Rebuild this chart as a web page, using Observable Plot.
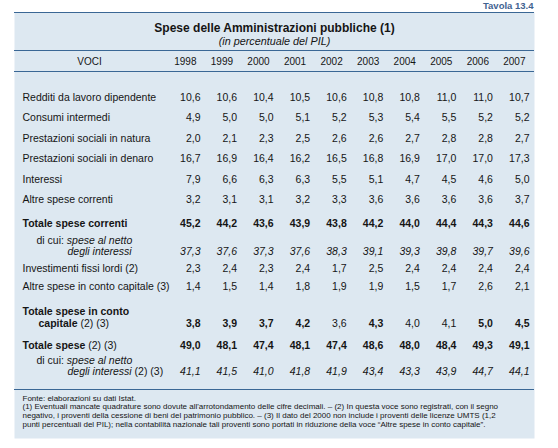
<!DOCTYPE html>
<html><head><meta charset="utf-8">
<script src="https://cdn.jsdelivr.net/npm/d3@7"></script>
<script src="https://cdn.jsdelivr.net/npm/@observablehq/plot@0.6"></script>
<style>
body{margin:0;background:#fff}
svg{display:block}
g[aria-label="values"] text{letter-spacing:0.6px}
</style>
</head><body><div id="chart"></div>
<script>
// ---- data ----
const years = [1998, 1999, 2000, 2001, 2002, 2003, 2004, 2005, 2006, 2007];
const redditi      = [10.6, 10.6, 10.4, 10.5, 10.6, 10.8, 10.8, 11.0, 11.0, 10.7];
const consumi      = [4.9, 5.0, 5.0, 5.1, 5.2, 5.3, 5.4, 5.5, 5.2, 5.2];
const natura       = [2.0, 2.1, 2.3, 2.5, 2.6, 2.6, 2.7, 2.8, 2.8, 2.7];
const denaro       = [16.7, 16.9, 16.4, 16.2, 16.5, 16.8, 16.9, 17.0, 17.0, 17.3];
const interessi    = [7.9, 6.6, 6.3, 6.3, 5.5, 5.1, 4.7, 4.5, 4.6, 5.0];
const altreCorr    = [3.2, 3.1, 3.1, 3.2, 3.3, 3.6, 3.6, 3.6, 3.6, 3.7];
const totCorr      = [45.2, 44.2, 43.6, 43.9, 43.8, 44.2, 44.0, 44.4, 44.3, 44.6];
const corrNetto    = [37.3, 37.6, 37.3, 37.6, 38.3, 39.1, 39.3, 39.8, 39.7, 39.6];
const investimenti = [2.3, 2.4, 2.3, 2.4, 1.7, 2.5, 2.4, 2.4, 2.4, 2.4];
const altreCap     = [1.4, 1.5, 1.4, 1.8, 1.9, 1.9, 1.5, 1.7, 2.6, 2.1];
const totCap       = [3.8, 3.9, 3.7, 4.2, 3.6, 4.3, 4.0, 4.1, 5.0, 4.5];
const totSpese     = [49.0, 48.1, 47.4, 48.1, 47.4, 48.6, 48.0, 48.4, 49.3, 49.1];
const speseNetto   = [41.1, 41.5, 41.0, 41.8, 41.9, 43.4, 43.3, 43.9, 44.7, 44.1];

const rowLabels = [
  "Redditi da lavoro dipendente", "Consumi intermedi", "Prestazioni sociali in natura",
  "Prestazioni sociali in denaro", "Interessi", "Altre spese correnti", "Totale spese correnti",
  "di cui: spese al netto degli interessi", "Investimenti fissi lordi (2)",
  "Altre spese in conto capitale (3)", "Totale spese in conto capitale (2) (3)",
  "Totale spese (2) (3)", "di cui: spese al netto degli interessi (2) (3)"
];
const tableNo = "Tavola 13.4";
const title = "Spese delle Amministrazioni pubbliche (1)";
const subtitle = "(in percentuale del PIL)";
const headLabel = "VOCI";
const notes = [
  "Fonte: elaborazioni su dati Istat.",
  "(1) Eventuali mancate quadrature sono dovute all'arrotondamento delle cifre decimali. – (2) In questa voce sono registrati, con il segno",
  "negativo, i proventi della cessione di beni del patrimonio pubblico. – (3) Il dato del 2000 non include i proventi delle licenze UMTS (1,2",
  "punti percentuali del PIL); nella contabilità nazionale tali proventi sono portati in riduzione della voce “Altre spese in conto capitale”."
];

// ---- layout ----
const FONT = "'Liberation Sans', Arial, Helvetica, sans-serif";
const INK = "#151515";
const BLUE = "#3a6795";
const BG = "#dde8f1";
const series = [redditi, consumi, natura, denaro, interessi, altreCorr, totCorr, corrNetto,
                investimenti, altreCap, totCap, totSpese, speseNetto];
const rowY =   [97, 117.5, 138, 158.5, 179, 199, 223, 251, 268, 286, 323, 345, 371];
const rowKind = ["n","n","n","n","n","n","b","i","n","n","b","b","i"];
const lightCap = new Set([2002, 2004, 2005]); // cells printed lighter in the source
const col = d3.scalePoint().domain(years).range([199, 528]); // right edges of value columns

const ctx = document.createElement("canvas").getContext("2d");
function tw(t, w, s, size) { ctx.font = `${s||"normal"} ${w||"normal"} ${size}px ${FONT}`; return ctx.measureText(t).width; }

const LS = 10.5;
const pieces = [];
function piece(text, x, y, weight = "normal", style = "normal") { pieces.push({text, x, y, weight, style}); }
rowLabels.forEach((lab, i) => {
  const y = rowY[i];
  if (i === 6) piece(lab, 22, y, "bold");
  else if (i === 7 || i === 12) {
    const parts = lab.split(" ");
    const dc = parts.slice(0, 2).join(" ");
    const l1 = parts.slice(2, 5).join(" ");
    const l2 = parts.slice(5, 7).join(" ");
    const rest = parts.slice(7).join(" ");
    piece(dc + " ", 36, y - 11);
    piece(l1, 36 + tw(dc + " ", "normal", "normal", LS), y - 11, "normal", "italic");
    piece(l2, 67, y, "normal", "italic");
    if (rest) piece(rest, 67 + tw(l2 + " ", "normal", "italic", LS), y);
  } else if (i === 10) {
    const parts = lab.split(" ");
    const l1 = parts.slice(0, 4).join(" ");
    const l2 = parts[4];
    const rest = parts.slice(5).join(" ");
    piece(l1, 22, y - 12, "bold");
    piece(l2, 38, y, "bold");
    piece(rest, 38 + tw(l2 + " ", "bold", "normal", LS), y);
  } else if (i === 11) {
    const parts = lab.split(" ");
    const l1 = parts.slice(0, 2).join(" ");
    const rest = parts.slice(2).join(" ");
    piece(l1, 22, y, "bold");
    piece(rest, 22 + tw(l1 + " ", "bold", "normal", LS), y);
  } else piece(lab, 22, y);
});

const cells = [];
series.forEach((vals, r) => vals.forEach((v, c) => {
  let weight = rowKind[r] === "b" ? "bold" : "normal";
  if (r === 10 && lightCap.has(years[c])) weight = "normal";
  cells.push({x: col(years[c]), y: rowY[r], text: v.toFixed(1).replace(".", ","),
              weight, style: rowKind[r] === "i" ? "italic" : "normal"});
}));

const combos = [["normal","normal"],["bold","normal"],["normal","italic"]];
const valueMarks = combos.map(([w, s]) =>
  Plot.text(cells.filter(d => d.weight === w && d.style === s), {x: "x", y: "y", text: "text",
    textAnchor: "end", dx: 1, fontSize: LS, fontWeight: w, fontStyle: s, fill: INK, ariaLabel: "values"}));
const labelMarks = combos.map(([w, s]) =>
  Plot.text(pieces.filter(p => p.weight === w && p.style === s),
    {x: "x", y: "y", text: "text", textAnchor: "start", fontSize: LS, fontWeight: w, fontStyle: s, fill: INK}));

const chart = Plot.plot({
  width: 558, height: 448, margin: 0,
  style: {fontFamily: FONT, background: "#fff"},
  x: {type: "identity", axis: null},
  y: {type: "identity", axis: null},
  marks: [
    Plot.frame({fill: BG, stroke: "none", insetLeft: 14, insetRight: 24, insetTop: 12, insetBottom: 10}),
    Plot.ruleY([12, 50, 71, 389], {stroke: BLUE, strokeWidth: 1, insetLeft: 14, insetRight: 24}),
    Plot.text([tableNo], {frameAnchor: "right", y: 5, dx: -25, text: d => d, fontSize: 9.5,
      fontWeight: "bold", fill: "#3f6391", textAnchor: "end"}),
    Plot.text([title], {frameAnchor: "left", y: 28, dx: 274, text: d => d, fontSize: 12,
      fontWeight: "bold", fill: INK, textAnchor: "middle"}),
    Plot.text([subtitle], {frameAnchor: "left", y: 41.5, dx: 274, text: d => d, fontSize: 10.8,
      fontStyle: "italic", fill: INK, textAnchor: "middle"}),
    Plot.text([headLabel], {frameAnchor: "left", y: 61, dx: 89, text: d => d, fontSize: 10,
      fill: INK, textAnchor: "middle"}),
    Plot.text(years, {x: d => col(d), y: () => 61, text: d => String(d), dx: -3, fontSize: 10,
      fill: INK, textAnchor: "end"}),
    ...labelMarks,
    ...valueMarks,
    Plot.text(notes, {frameAnchor: "left", y: (d, i) => 397.5 + i * 8.7, dx: 22, text: d => d,
      fontSize: 8, fill: INK, textAnchor: "start", ariaLabel: "notes"})
  ]
});
document.getElementById("chart").appendChild(chart);

// justify the two full-width footnote lines as in the source
const noteEnds = [null, 529, 531, null];
d3.select(chart).selectAll('g[aria-label="notes"] text').each(function(d, i) {
  if (noteEnds[i]) { this.setAttribute("textLength", noteEnds[i] - 22); this.setAttribute("lengthAdjust", "spacing"); }
});
</script></body></html>
